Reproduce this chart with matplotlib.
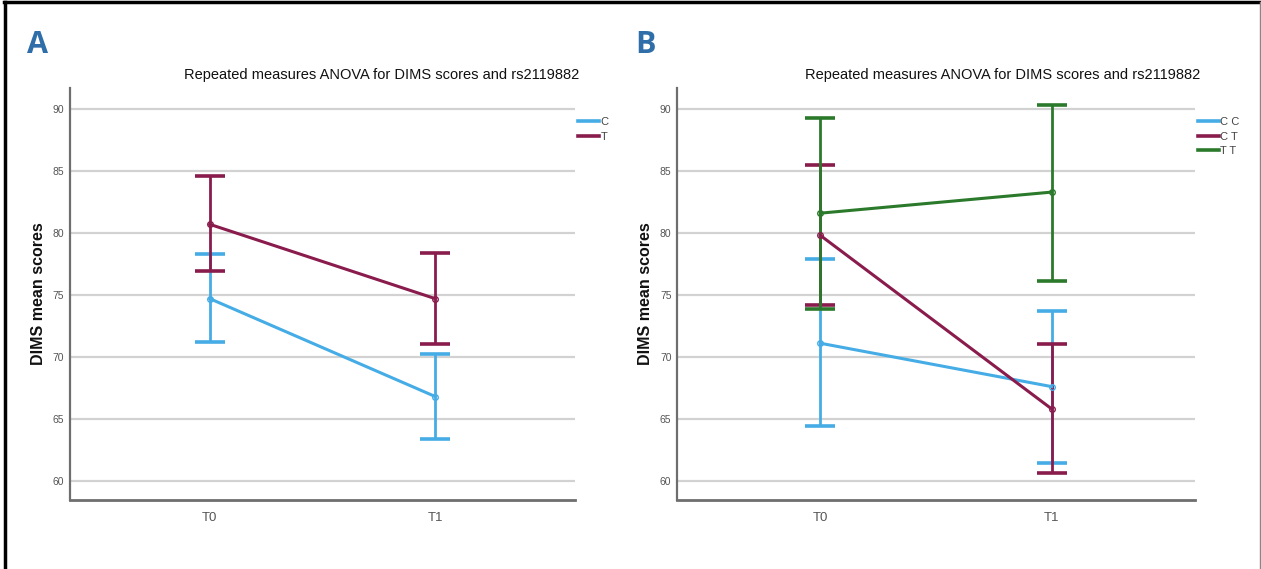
import matplotlib.pyplot as plt
from matplotlib.lines import Line2D
import numpy as np

# time points
times = ['T0', 'T1']

# panel A: rs2119882 allele groups (mean, lower CI, upper CI)
a_groups = ['C', 'T']
a_mean_c = [74.7, 66.8]
a_lo_c = [71.2, 63.4]
a_hi_c = [78.3, 70.2]
a_mean_t = [80.7, 74.7]
a_lo_t = [76.9, 71.0]
a_hi_t = [84.6, 78.4]

# panel B: genotype groups
b_groups = ['C C', 'C T', 'T T']
b_mean_cc = [71.1, 67.6]
b_lo_cc = [64.4, 61.4]
b_hi_cc = [77.9, 73.7]
b_mean_ct = [79.8, 65.8]
b_lo_ct = [74.2, 60.6]
b_hi_ct = [85.5, 71.0]
b_mean_tt = [81.6, 83.3]
b_lo_tt = [73.9, 76.1]
b_hi_tt = [89.3, 90.3]

yticks = [60, 65, 70, 75, 80, 85, 90]

BLUE = '#45ace6'
MAROON = '#891c4c'
GREEN = '#2b7a2b'
GRAY = '#6e6e6e'
NARROW = ['Liberation Sans Narrow', 'Liberation Sans', 'DejaVu Sans']
TITLE = 'Repeated measures ANOVA for DIMS scores and rs2119882'


def config_matplotlib():
    plt.rcParams['font.family'] = NARROW
    plt.rcParams['axes.edgecolor'] = GRAY
    plt.rcParams['xtick.color'] = '#555555'
    plt.rcParams['ytick.color'] = '#555555'


def draw_series(ax, x, mean, lo, hi, color):
    mean = np.array(mean)
    yerr = [mean - np.array(lo), np.array(hi) - mean]
    ax.errorbar(x, mean, yerr=yerr, color=color, lw=2.2, elinewidth=2.0,
                capsize=11, capthick=2.6, zorder=3)
    # small open circles at the means
    ax.plot(x, mean, 'o', color=color, ms=4, mfc='none', mew=1.0, zorder=4)


def setup_axes(ax):
    ax.set_xlim(-0.62, 1.62)
    ax.set_ylim(58.45, 91.7)
    ax.set_yticks(yticks)
    ax.set_xticks([0, 1])
    ax.set_xticklabels(times, fontsize=9.5, color='#555555')
    ax.tick_params(axis='y', labelsize=7.5, length=0, pad=4)
    ax.tick_params(axis='x', length=0, pad=9)
    ax.grid(True, axis='y', color='#d2d2d2', lw=1.6)
    ax.set_axisbelow(True)
    for side in ['top', 'right']:
        ax.spines[side].set_visible(False)
    ax.spines['left'].set_linewidth(1.6)
    ax.spines['bottom'].set_linewidth(2.0)
    ax.set_ylabel('DIMS mean scores', fontsize=11.5, fontweight='bold',
                  family=['Liberation Sans', 'DejaVu Sans'], color='#111111',
                  labelpad=5)


def add_legend(ax, labels, colors):
    handles = [Line2D([0], [0], color=c, lw=2.6) for c in colors]
    ax.legend(handles, labels, loc='upper left', bbox_to_anchor=(1.005, 0.93),
              frameon=False, fontsize=8, handlelength=1.9, handletextpad=0.15,
              labelspacing=0.42, borderpad=0, borderaxespad=0,
              labelcolor='#444444')


def main():
    config_matplotlib()
    fig = plt.figure(figsize=(12.61, 5.69), dpi=100)
    ax_a = fig.add_axes([0.0555, 0.1213, 0.4005, 0.724])
    ax_b = fig.add_axes([0.5369, 0.1213, 0.4108, 0.724])

    x = np.arange(len(times))

    setup_axes(ax_a)
    draw_series(ax_a, x, a_mean_c, a_lo_c, a_hi_c, BLUE)
    draw_series(ax_a, x, a_mean_t, a_lo_t, a_hi_t, MAROON)
    add_legend(ax_a, a_groups, [BLUE, MAROON])

    setup_axes(ax_b)
    draw_series(ax_b, x, b_mean_cc, b_lo_cc, b_hi_cc, BLUE)
    draw_series(ax_b, x, b_mean_ct, b_lo_ct, b_hi_ct, MAROON)
    draw_series(ax_b, x, b_mean_tt, b_lo_tt, b_hi_tt, GREEN)
    add_legend(ax_b, b_groups, [BLUE, MAROON, GREEN])

    # titles centred over plot + legend area
    fig.text(382 / 1261, 1 - 75 / 569, TITLE, ha='center', va='center',
             fontsize=10.5, color='#111111')
    fig.text(1003 / 1261, 1 - 75 / 569, TITLE, ha='center', va='center',
             fontsize=10.5, color='#111111')

    # panel letters
    fig.text(27 / 1261, 1 - 45 / 569, 'A', ha='left', va='center', fontsize=22,
             fontweight='bold', color='#2f6ea8',
             family=['Open Sans', 'DejaVu Sans'])
    fig.text(635 / 1261, 1 - 45 / 569, 'B', ha='left', va='center', fontsize=22,
             fontweight='bold', color='#2f6ea8',
             family=['Open Sans', 'DejaVu Sans'])

    # outer frame
    fig.add_artist(Line2D([0.003, 1.0], [0.996, 0.996], color='black', lw=2.5,
                          transform=fig.transFigure))
    fig.add_artist(Line2D([0.004, 0.004], [0.0, 0.996], color='black', lw=2.5,
                          transform=fig.transFigure))
    fig.add_artist(Line2D([0.9992, 0.9992], [0.0, 0.996], color='#888888',
                          lw=1.0, transform=fig.transFigure))

    fig.savefig('out.png', dpi=100)


if __name__ == "__main__":
    main()
